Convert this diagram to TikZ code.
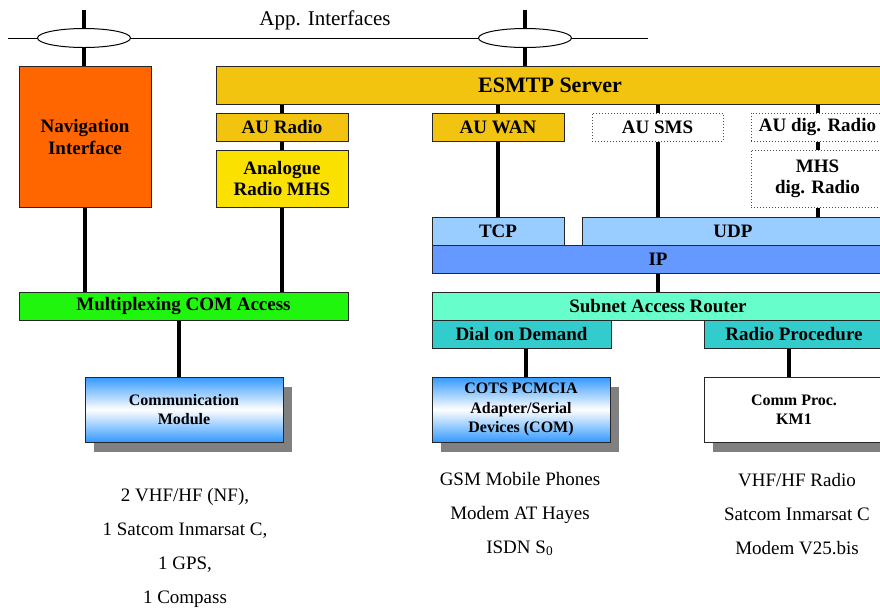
\documentclass[tikz,border=0pt]{standalone}
\usepackage{fontspec}
\setmainfont{Liberation Serif}
\usetikzlibrary{shapes.geometric,shadows}
\definecolor{navorange}{HTML}{FF6600}
\definecolor{srvgold}{HTML}{F2C40F}
\definecolor{anayellow}{HTML}{FAE100}
\definecolor{muxgreen}{HTML}{20F50E}
\definecolor{tcpblue}{HTML}{99CCFF}
\definecolor{ipblue}{HTML}{6699FF}
\definecolor{sargreen}{HTML}{66FFCC}
\definecolor{dialteal}{HTML}{33CCCC}
\definecolor{hwblue}{HTML}{3399FF}
\definecolor{shadowgray}{HTML}{808080}

\begin{document}
\begin{tikzpicture}[x=0.5pt,y=-0.5pt,
    box/.style={draw=black!85,line width=0.5pt,inner sep=1pt,align=center,
      font=\fontsize{9.5}{10.5}\selectfont\bfseries},
    dotbox/.style={box,densely dotted,draw=black!70,fill=white},
    hwbox/.style={box,font=\fontsize{8}{9.8}\selectfont\bfseries,
      drop shadow={shadow xshift=4.5pt,shadow yshift=-5pt,fill=shadowgray,opacity=1}},
    grad/.style={top color=hwblue,bottom color=hwblue,middle color=white},
    conn/.style={line width=2pt},
    lbl/.style={align=center,font=\fontsize{9.5}{17}\selectfont}]
  \useasboundingbox (0,0) rectangle (880,607);

  % left column
  \node[box,fill=navorange,minimum width=66pt,minimum height=70.5pt,
    font=\fontsize{9.5}{11}\selectfont\bfseries] (nav) at (85,136.5) {Navigation\\Interface};
  \node[box,fill=srvgold,minimum width=66pt,minimum height=14pt] (auradio) at (282,127) {AU Radio};
  \node[box,fill=anayellow,minimum width=66pt,minimum height=28.5pt] (anamhs) at (282,178.5) {Analogue\\Radio MHS};
  \node[box,fill=muxgreen,minimum width=164.5pt,minimum height=14pt] (mux) at (183.5,306) {Multiplexing COM Access};
  \node[hwbox,grad,minimum width=99pt,minimum height=32.5pt] (commod) at (184,409.5) {Communication\\Module};

  % server and application units
  \node[box,fill=srvgold,minimum width=334pt,minimum height=19pt,
    font=\fontsize{11}{12}\selectfont\bfseries] (esmtp) at (550,85) {ESMTP Server};
  \node[box,fill=srvgold,minimum width=66pt,minimum height=14pt] (auwan) at (498,127) {AU WAN};
  \node[dotbox,minimum width=65.5pt,minimum height=14pt] (ausms) at (657.5,127) {AU SMS};
  \node[dotbox,minimum width=66.5pt,minimum height=14pt] (audig) at (817.5,127) {AU dig. Radio};
  \node[dotbox,minimum width=66.5pt,minimum height=28.5pt] (mhsdig) at (817.5,178.5) {MHS\\dig. Radio};

  % transport and network
  \node[box,fill=tcpblue,minimum width=66pt,minimum height=14pt] (tcp) at (498,231) {TCP};
  \node[box,fill=tcpblue,minimum width=151pt,minimum height=14pt] (udp) at (733,231) {UDP};
  \node[box,fill=ipblue,minimum width=226pt,minimum height=14pt] (ip) at (658,259) {IP};
  \node[box,fill=sargreen,minimum width=226pt,minimum height=14pt] (sar) at (658,306) {Subnet Access Router};
  \node[box,fill=dialteal,minimum width=89.5pt,minimum height=14pt] (dial) at (521.5,334) {Dial on Demand};
  \node[box,fill=dialteal,minimum width=90pt,minimum height=14pt] (radproc) at (794,334) {Radio Procedure};
  \node[hwbox,grad,minimum width=89pt,minimum height=32.5pt] (cots) at (521,409.5) {COTS PCMCIA\\Adapter/Serial\\Devices (COM)};
  \node[hwbox,fill=white,minimum width=90pt,minimum height=32.5pt] (commproc) at (794,409.5) {Comm Proc.\\KM1};

  % devices
  \node[lbl] (navdev) at (185,548) {2 VHF/HF (NF),\\1 Satcom Inmarsat C,\\1 GPS,\\1 Compass};
  \node[lbl] (dialdev) at (520,514) {GSM Mobile Phones\\Modem AT Hayes\\ISDN S\textsubscript{0}};
  \node[lbl] (raddev) at (797,514) {VHF/HF Radio\\Satcom Inmarsat C\\Modem V25.bis};

  % connectors
  \draw[conn] (auradio.north) -- (auradio.north |- esmtp.south);
  \draw[conn] (auradio) -- (anamhs);
  \draw[conn] (anamhs.south) -- (anamhs.south |- mux.north);
  \draw[conn] (nav.south) -- (nav.south |- mux.north);
  \draw[conn] ([xshift=-2.5pt]commod.north) -- ([xshift=-2.5pt]commod.north |- mux.south);
  \draw[conn] (auwan.north) -- (auwan.north |- esmtp.south);
  \draw[conn] (auwan.south) -- (tcp.north);
  \draw[conn] (ausms.north) -- (ausms.north |- esmtp.south);
  \draw[conn] (ausms.south) -- (ausms.south |- udp.north);
  \draw[conn] (audig.north) -- (audig.north |- esmtp.south);
  \draw[conn] (audig.south) -- (mhsdig.north);
  \draw[conn] (mhsdig.south) -- (mhsdig.south |- udp.north);
  \draw[conn] (ip.south) -- (sar.north);
  \draw[conn] ([xshift=2.5pt]cots.north) -- ([xshift=2.5pt]cots.north |- dial.south);
  \draw[conn] ([xshift=-2.5pt]commproc.north) -- ([xshift=-2.5pt]commproc.north |- radproc.south);

  % application interfaces
  \coordinate (busl) at (8,38);
  \coordinate (busr) at (648,38);
  \coordinate (navtop) at (84,10);
  \coordinate (srvtop) at (525,10);
  \draw[line width=0.5pt] (busl) -- (busr);
  \draw[conn] (navtop) -- (nav.north -| navtop);
  \draw[conn] (srvtop) -- (esmtp.north -| srvtop);
  \node[ellipse,draw,line width=0.5pt,fill=white,minimum width=46.5pt,minimum height=9.5pt] (ifnav) at (84,38) {};
  \node[ellipse,draw,line width=0.5pt,fill=white,minimum width=46.5pt,minimum height=9.5pt] (ifsrv) at (525,38) {};
  \node[font=\fontsize{10.5}{12}\selectfont] (apptxt) at (325,20) {App. Interfaces};
\end{tikzpicture}
\end{document}
